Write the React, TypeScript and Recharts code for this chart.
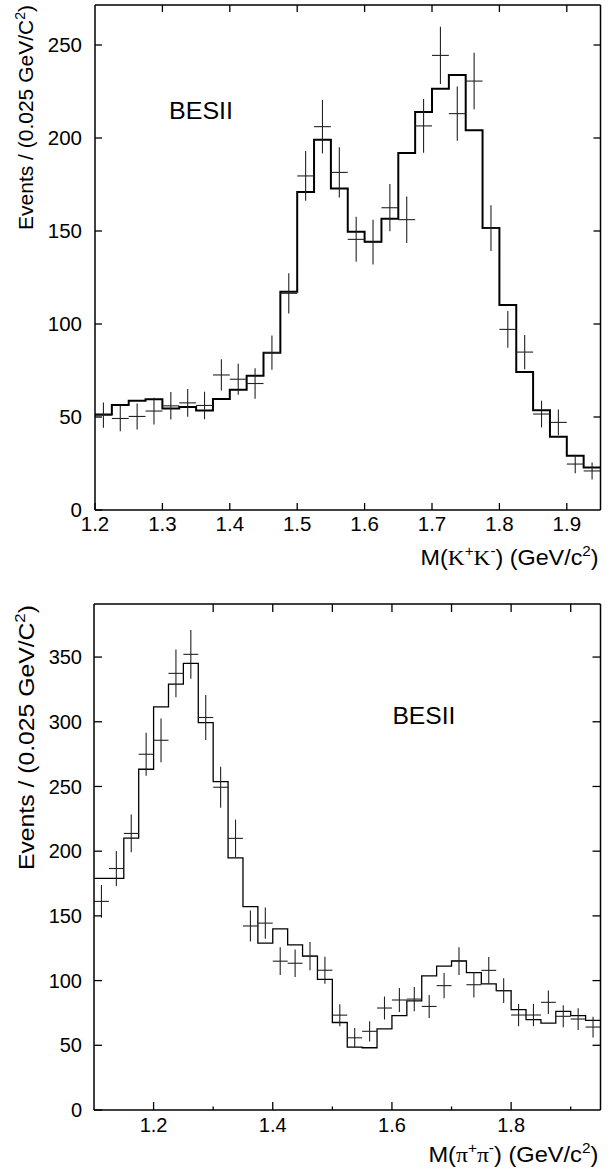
import React from "react";
import { ComposedChart, Line, Scatter, XAxis, YAxis, ErrorBar } from "recharts";

// M(K+K-) spectrum, bin centres in GeV/c^2 (bin width 0.025)
const kkMass = [
  1.2125, 1.2375, 1.2625, 1.2875, 1.3125, 1.3375, 1.3625, 1.3875, 1.4125, 1.4375,
  1.4625, 1.4875, 1.5125, 1.5375, 1.5625, 1.5875, 1.6125, 1.6375, 1.6625, 1.6875,
  1.7125, 1.7375, 1.7625, 1.7875, 1.8125, 1.8375, 1.8625, 1.8875, 1.9125, 1.9375,
];
const kkFit = [
  51.4, 56.5, 58.8, 59.5, 54.6, 55.4, 53.5, 59.7, 64.6, 72.2,
  84.6, 117.4, 171, 199.1, 172.8, 149.6, 144.2, 156.6, 191.9, 214,
  226.5, 233.9, 204.1, 151.6, 110.2, 74.2, 53.6, 39.4, 29.2, 22.8,
];
const kkEvents = [
  51, 49.2, 50.3, 53.2, 56, 57.6, 56.2, 72.6, 70.3, 68,
  84.6, 116.5, 179.6, 206.1, 181.5, 145.5, 144, 162.5, 156.1, 206.5,
  244.4, 213.1, 230.6, 151.5, 97.1, 84.9, 51.6, 47.1, 24.7, 21,
];
const kkErr = [
  6.8, 6.9, 7, 7.2, 7.4, 7.5, 7.4, 8.4, 8.3, 8.2,
  9.2, 10.8, 13.4, 14.4, 13.5, 12.1, 12, 12.7, 12.5, 14.4,
  15.4, 14.6, 15.2, 12.3, 9.9, 9.2, 7.2, 6.9, 5, 4.6,
];
const kkXTicks = [1.2, 1.3, 1.4, 1.5, 1.6, 1.7, 1.8, 1.9];
const kkYTicks = [0, 50, 100, 150, 200, 250];

// M(pi+pi-) spectrum, bin centres in GeV/c^2
const ppMass = [
  1.1125, 1.1375, 1.1625, 1.1875, 1.2125, 1.2375, 1.2625, 1.2875, 1.3125, 1.3375,
  1.3625, 1.3875, 1.4125, 1.4375, 1.4625, 1.4875, 1.5125, 1.5375, 1.5625, 1.5875,
  1.6125, 1.6375, 1.6625, 1.6875, 1.7125, 1.7375, 1.7625, 1.7875, 1.8125, 1.8375,
  1.8625, 1.8875, 1.9125, 1.9375,
];
const ppFit = [
  179, 179, 210.1, 263.3, 311.5, 329.1, 345.1, 299.4, 253.7, 194.9,
  157.1, 128.9, 140, 127.6, 118.9, 101, 67.6, 48.6, 48.1, 62.7,
  72.9, 84.3, 103.6, 111.1, 115.2, 106.2, 97.4, 92.2, 77.6, 69.8,
  67.2, 76.2, 72.9, 69.3,
];
const ppEvents = [
  161.2, 186.6, 213.7, 274.9, 285.7, 337.4, 352.1, 303.3, 249.4, 209.9,
  142.2, 144.4, 115, 113.4, 118.9, 108, 73.3, 55.8, 60.8, 78.8,
  85, 85.7, 80, 96.1, 115, 96.8, 107.9, 92.2, 73.4, 73.4,
  83.2, 72.4, 70.3, 64.1,
];
const ppErr = [
  12.7, 13.6, 14.6, 16.6, 16.9, 18.4, 18.8, 17.4, 15.8, 14.5,
  11.9, 12, 10.7, 10.6, 10.9, 10.4, 8.5, 7.5, 7.8, 8.9,
  9.2, 9.3, 8.9, 9.8, 10.7, 9.8, 10.4, 9.6, 8.6, 8.6,
  9.1, 8.5, 8.4, 8,
];
const ppXTicks = [1.2, 1.3, 1.4, 1.5, 1.6, 1.7, 1.8, 1.9];
const ppXLabels = [1.2, 1.4, 1.6, 1.8];
const ppYTicks = [0, 50, 100, 150, 200, 250, 300, 350];

const HALF_BIN = 0.0125;
const FONT = "'Liberation Sans', Arial, Helvetica, sans-serif";
const SERIF = "'Liberation Serif', 'Times New Roman', serif";
const INK = "#000";

const histogram = (mass: number[], fit: number[], hi: number) => [
  ...mass.map((m, i) => ({ x: m - HALF_BIN, y: fit[i] })),
  { x: hi, y: fit[fit.length - 1] },
];
const points = (mass: number[], ev: number[], err: number[]) =>
  mass.map((m, i) => ({ x: m, y: ev[i], ey: err[i], ex: HALF_BIN }));

const leftTick = (len: number, gap: number, fs: number) => (p: any) => (
  <g>
    <line x1={p.x} x2={p.x + len} y1={p.y} y2={p.y} stroke={INK} strokeWidth={1.3} />
    <text x={p.x - gap} y={p.y} dy="0.36em" textAnchor="end" fontSize={fs} fontFamily={FONT} fill={INK}>
      {p.payload.value}
    </text>
  </g>
);

const bottomTick = (len: number, minorLen: number, labels: number[], offset: number, fs: number) => (p: any) => {
  const v = p.payload.value;
  const major = labels.includes(v);
  return (
    <g>
      <line x1={p.x} x2={p.x} y1={p.y} y2={p.y - (major ? len : minorLen)} stroke={INK} strokeWidth={1.3} />
      {major && (
        <text x={p.x} y={p.y + offset} textAnchor="middle" fontSize={fs} fontFamily={FONT} fill={INK}>
          {v}
        </text>
      )}
    </g>
  );
};

const topTick = (len: number) => (p: any) => (
  <line x1={p.x} x2={p.x} y1={p.y} y2={p.y + len} stroke={INK} strokeWidth={1.3} />
);
const rightTick = (len: number) => (p: any) => (
  <line x1={p.x} x2={p.x - len} y1={p.y} y2={p.y} stroke={INK} strokeWidth={1.3} />
);

interface PanelProps {
  top: number;
  height: number;
  marginTop: number;
  marginBottom: number;
  yAxisWidth: number;
  xDomain: [number, number];
  yDomain: [number, number];
  xTicks: number[];
  xLabels: number[];
  yTicks: number[];
  hist: { x: number; y: number }[];
  pts: { x: number; y: number; ey: number; ex: number }[];
  histWidth: number;
  tickLen: number;
  minorLen: number;
  yGap: number;
  fs: number;
  xLabelOffset: number;
}

function Panel(props: PanelProps) {
  const axisLine = { stroke: INK, strokeWidth: 1.5 };
  return (
    <div style={{ position: "absolute", left: 0, top: props.top }}>
      <ComposedChart
        width={613}
        height={props.height}
        margin={{ top: props.marginTop - 1, right: 11.5, bottom: props.marginBottom, left: 0 }}
      >
        <XAxis
          type="number"
          dataKey="x"
          domain={props.xDomain}
          allowDataOverflow
          ticks={props.xTicks}
          interval={0}
          height={30}
          axisLine={axisLine}
          tickLine={false}
          tickSize={0}
          tickMargin={0}
          tick={bottomTick(props.tickLen, props.minorLen, props.xLabels, props.xLabelOffset, props.fs)}
        />
        <XAxis
          xAxisId="top"
          orientation="top"
          type="number"
          dataKey="x"
          domain={props.xDomain}
          allowDataOverflow
          ticks={props.xTicks.slice(1)}
          interval={0}
          height={1}
          axisLine={axisLine}
          tickLine={false}
          tickSize={0}
          tickMargin={0}
          tick={topTick(props.tickLen)}
        />
        <YAxis
          type="number"
          dataKey="y"
          domain={props.yDomain}
          allowDataOverflow
          ticks={props.yTicks}
          interval={0}
          width={props.yAxisWidth}
          axisLine={axisLine}
          tickLine={false}
          tickSize={0}
          tickMargin={0}
          tick={leftTick(props.tickLen, props.yGap, props.fs)}
        />
        <YAxis
          yAxisId="right"
          orientation="right"
          type="number"
          dataKey="y"
          domain={props.yDomain}
          allowDataOverflow
          ticks={props.yTicks.slice(1)}
          interval={0}
          width={1}
          axisLine={axisLine}
          tickLine={false}
          tickSize={0}
          tickMargin={0}
          tick={rightTick(props.tickLen)}
        />
        {/* invisible copy so the mirrored frame axes get a series */}
        <Line
          xAxisId="top"
          yAxisId="right"
          data={props.hist}
          dataKey="y"
          type="stepAfter"
          stroke="none"
          dot={false}
          activeDot={false}
          isAnimationActive={false}
        />
        <Line
          data={props.hist}
          dataKey="y"
          type="stepAfter"
          stroke={INK}
          strokeWidth={props.histWidth}
          dot={false}
          activeDot={false}
          isAnimationActive={false}
        />
        <Scatter data={props.pts} dataKey="y" shape={() => <g />} isAnimationActive={false}>
          <ErrorBar dataKey="ey" direction="y" width={0} stroke="#222" strokeWidth={1.1} isAnimationActive={false} />
          <ErrorBar dataKey="ex" direction="x" width={0} stroke="#222" strokeWidth={1.1} isAnimationActive={false} />
        </Scatter>
      </ComposedChart>
    </div>
  );
}

function Labels() {
  const sup = { fontSize: 14 };
  return (
    <svg
      width={613}
      height={1171}
      style={{ position: "absolute", left: 0, top: 0, pointerEvents: "none" }}
      fontFamily={FONT}
      fill={INK}
    >
      <text transform="translate(33.3,230) rotate(-90)" fontSize={21} textLength={225} lengthAdjust="spacingAndGlyphs">
        Events / (0.025 GeV/C<tspan dy={-8} fontSize={14}>2</tspan>
        <tspan dy={8}>)</tspan>
      </text>
      <text transform="translate(34.3,870) rotate(-90)" fontSize={22} textLength={265} lengthAdjust="spacingAndGlyphs">
        Events / (0.025 GeV/C<tspan dy={-9} fontSize={15}>2</tspan>
        <tspan dy={9}>)</tspan>
      </text>
      <text x={169} y={119} fontSize={24} textLength={64} lengthAdjust="spacingAndGlyphs">BESII</text>
      <text x={392.4} y={724} fontSize={24} textLength={63} lengthAdjust="spacingAndGlyphs">BESII</text>
      <text x={420.6} y={565} fontSize={21.5} textLength={178} lengthAdjust="spacingAndGlyphs">
        M(<tspan fontFamily={SERIF}>K</tspan>
        <tspan dy={-9} {...sup}>+</tspan>
        <tspan dy={9} fontFamily={SERIF}>K</tspan>
        <tspan dy={-9} {...sup}>-</tspan>
        <tspan dy={9}>) (GeV/c</tspan>
        <tspan dy={-9} {...sup}>2</tspan>
        <tspan dy={9}>)</tspan>
      </text>
      <text x={428.4} y={1162} fontSize={21.5} textLength={170} lengthAdjust="spacingAndGlyphs">
        M(<tspan fontFamily={SERIF}>π</tspan>
        <tspan dy={-9} {...sup}>+</tspan>
        <tspan dy={9} fontFamily={SERIF}>π</tspan>
        <tspan dy={-9} {...sup}>-</tspan>
        <tspan dy={9}>) (GeV/c</tspan>
        <tspan dy={-9} {...sup}>2</tspan>
        <tspan dy={9}>)</tspan>
      </text>
    </svg>
  );
}

export default function App() {
  return (
    <div style={{ position: "absolute", left: 0, top: 0, width: 613, height: 1171, background: "#fff" }}>
      <Panel
        top={0}
        height={590}
        marginTop={5}
        marginBottom={50}
        yAxisWidth={95}
        xDomain={[1.2, 1.95]}
        yDomain={[0, 271.5]}
        xTicks={kkXTicks}
        xLabels={kkXTicks}
        yTicks={kkYTicks}
        hist={histogram(kkMass, kkFit, 1.95)}
        pts={points(kkMass, kkEvents, kkErr)}
        histWidth={2}
        tickLen={7}
        minorLen={7}
        yGap={13}
        fs={20.5}
        xLabelOffset={21}
      />
      <Panel
        top={590}
        height={581}
        marginTop={14}
        marginBottom={31}
        yAxisWidth={94}
        xDomain={[1.1, 1.95]}
        yDomain={[0, 391]}
        xTicks={ppXTicks}
        xLabels={ppXLabels}
        yTicks={ppYTicks}
        hist={histogram(ppMass, ppFit, 1.95)}
        pts={points(ppMass, ppEvents, ppErr)}
        histWidth={1.3}
        tickLen={8}
        minorLen={3.5}
        yGap={12}
        fs={20}
        xLabelOffset={22}
      />
      <Labels />
    </div>
  );
}
